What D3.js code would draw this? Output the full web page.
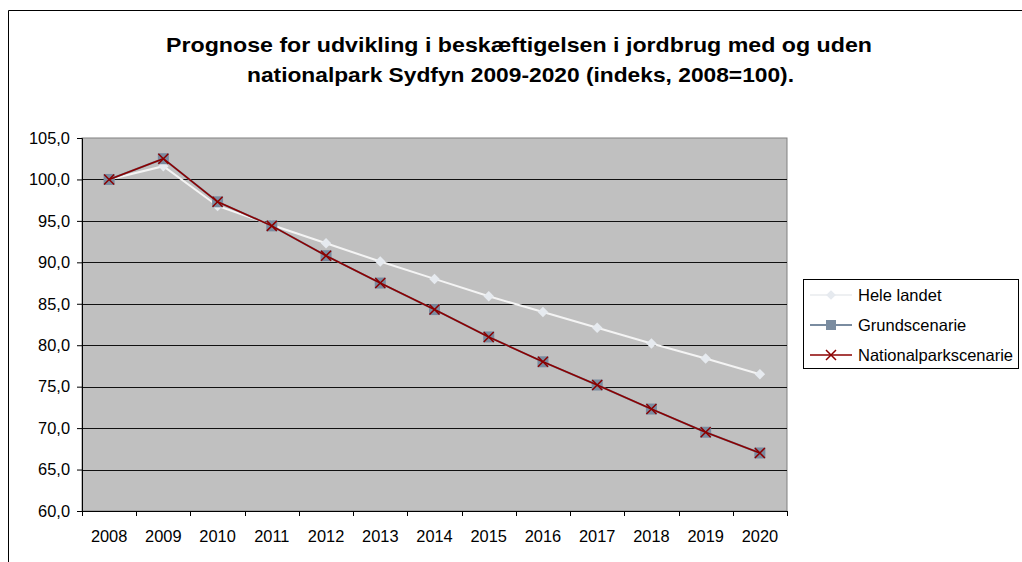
<!doctype html>
<html>
<head>
<meta charset="utf-8">
<style>
body { margin:0; background:#fff; }
svg { display:block; font-family:"Liberation Sans", Arial, sans-serif; }
</style>
<script src="https://d3js.org/d3.v7.min.js"></script>
</head>
<body>
<script>
// data
var years = ['2008','2009','2010','2011','2012','2013','2014','2015','2016','2017','2018','2019','2020'];
var heleLandet = [100.0, 101.6, 96.8, 94.5, 92.3, 90.1, 88.0, 85.9, 84.0, 82.1, 80.2, 78.4, 76.5];
var grundscenarie = [100.0, 102.5, 97.3, 94.4, 90.8, 87.5, 84.3, 81.0, 78.0, 75.2, 72.3, 69.5, 67.0];
var nationalparkscenarie = [100.0, 102.5, 97.3, 94.4, 90.8, 87.5, 84.3, 81.0, 78.0, 75.2, 72.3, 69.5, 67.0];
var yTicks = [60, 65, 70, 75, 80, 85, 90, 95, 100, 105];
var titleLines = ['Prognose for udvikling i beskæftigelsen i jordbrug med og uden',
                  'nationalpark Sydfyn 2009-2020 (indeks, 2008=100).'];
var seriesNames = ['Hele landet', 'Grundscenarie', 'Nationalparkscenarie'];

var width = 1022, height = 562;
var plot = {left: 82, top: 138, right: 787, bottom: 511};

var svg = d3.select('body').append('svg')
    .attr('width', width)
    .attr('height', height);

// outer chart border (cropped on right and bottom)
svg.append('path')
   .attr('d', 'M8.5,' + height + 'V10.5H' + width)
   .attr('fill', 'none')
   .attr('stroke', '#000')
   .attr('stroke-width', 1);

// title (the original is a bit wider than the font, so stretch it)
var titleSpan = [[166, 706], [247, 547]];
svg.append('g').selectAll('text')
   .data(titleLines)
   .enter()
   .append('text')
   .attr('x', function (d, i) { return titleSpan[i][0]; })
   .attr('y', function (d, i) { return 52 + i * 30; })
   .attr('textLength', function (d, i) { return titleSpan[i][1]; })
   .attr('lengthAdjust', 'spacingAndGlyphs')
   .attr('font-size', '20.5px')
   .attr('font-weight', 'bold')
   .text(function (d) { return d; });

var x = d3.scaleBand().domain(years).range([plot.left, plot.right]);
var y = d3.scaleLinear().domain([60, 105]).range([plot.bottom, plot.top]);

// plot area
svg.append('rect')
   .attr('x', plot.left)
   .attr('y', plot.top)
   .attr('width', plot.right - plot.left)
   .attr('height', plot.bottom - plot.top)
   .attr('fill', '#c0c0c0')
   .attr('stroke', '#808080');

// gridlines
svg.append('g').selectAll('line')
   .data(yTicks.slice(1, -1))
   .enter()
   .append('line')
   .attr('x1', plot.left)
   .attr('x2', plot.right)
   .attr('y1', function (d) { return Math.round(y(d)) + 0.5; })
   .attr('y2', function (d) { return Math.round(y(d)) + 0.5; })
   .attr('stroke', '#111');

// y axis
var fmt = function (d) { return d3.format('.1f')(d).replace('.', ','); };
var yAxis = svg.append('g')
   .attr('transform', 'translate(' + plot.left + ',0)')
   .call(d3.axisLeft(y).tickValues(yTicks).tickFormat(fmt).tickSize(5).tickPadding(7));
yAxis.select('.domain').attr('stroke', '#000');
yAxis.selectAll('text').attr('font-size', '16.4px').attr('fill', '#000')
   .attr('font-family', '"Liberation Sans", Arial, sans-serif');

// x axis
var xAxis = svg.append('g')
   .attr('transform', 'translate(0,' + plot.bottom + ')')
   .call(d3.axisBottom(x).tickSize(0).tickPadding(19));
xAxis.select('.domain').remove();
xAxis.selectAll('text').attr('font-size', '16.4px').attr('fill', '#000')
   .attr('font-family', '"Liberation Sans", Arial, sans-serif');
xAxis.append('line')
   .attr('x1', plot.left).attr('x2', plot.right)
   .attr('y1', 0.5).attr('y2', 0.5)
   .attr('stroke', '#000');
xAxis.selectAll('.bound')
   .data(years.concat(['end']))
   .enter()
   .append('line')
   .attr('class', 'bound')
   .attr('x1', function (d) { return Math.round(d === 'end' ? plot.right : x(d)) + 0.5; })
   .attr('x2', function (d) { return Math.round(d === 'end' ? plot.right : x(d)) + 0.5; })
   .attr('y1', 0).attr('y2', 5)
   .attr('stroke', '#000');

var cx = function (d, i) { return x(years[i]) + x.bandwidth() / 2; };
var line = d3.line().x(cx).y(function (d) { return y(d); });

// Hele landet
svg.append('path')
   .datum(heleLandet)
   .attr('d', line)
   .attr('fill', 'none')
   .attr('stroke', '#f4f4f4')
   .attr('stroke-width', 2);
svg.append('g').selectAll('path')
   .data(heleLandet)
   .enter()
   .append('path')
   .attr('d', d3.symbol().type(d3.symbolDiamond2).size(70))
   .attr('transform', function (d, i) { return 'translate(' + cx(d, i) + ',' + y(d) + ')'; })
   .attr('fill', '#e6eaef');

// Grundscenarie
svg.append('path')
   .datum(grundscenarie)
   .attr('d', line)
   .attr('fill', 'none')
   .attr('stroke', '#7a8ca0')
   .attr('stroke-width', 2);
svg.append('g').selectAll('rect')
   .data(grundscenarie)
   .enter()
   .append('rect')
   .attr('x', function (d, i) { return cx(d, i) - 5.5; })
   .attr('y', function (d) { return y(d) - 5.5; })
   .attr('width', 11)
   .attr('height', 11)
   .attr('fill', '#7a8ca0');

// Nationalparkscenarie
svg.append('path')
   .datum(nationalparkscenarie)
   .attr('d', line)
   .attr('fill', 'none')
   .attr('stroke', '#8b0000')
   .attr('stroke-width', 1.6);
svg.append('g').selectAll('path')
   .data(nationalparkscenarie)
   .enter()
   .append('path')
   .attr('d', 'M-5,-5L5,5M-5,5L5,-5')
   .attr('transform', function (d, i) { return 'translate(' + cx(d, i) + ',' + y(d) + ')'; })
   .attr('stroke', '#8b0000')
   .attr('stroke-width', 1.5);

// legend
var legend = svg.append('g').attr('transform', 'translate(803,279)');
legend.append('rect')
   .attr('x', 0.5).attr('y', 0.5)
   .attr('width', 215).attr('height', 89)
   .attr('fill', '#fff')
   .attr('stroke', '#000');
var items = legend.selectAll('.item')
   .data(seriesNames)
   .enter()
   .append('g')
   .attr('class', 'item')
   .attr('transform', function (d, i) { return 'translate(0,' + (16 + i * 30) + ')'; });
items.append('line')
   .attr('x1', 7).attr('x2', 49)
   .attr('stroke', function (d, i) { return ['#eef0f2', '#7a8ca0', '#8b0000'][i]; })
   .attr('stroke-width', function (d, i) { return i === 2 ? 1.5 : 2; });
items.filter(function (d, i) { return i === 0; })
   .append('path')
   .attr('d', d3.symbol().type(d3.symbolDiamond2).size(60))
   .attr('transform', 'translate(28,0)')
   .attr('fill', '#e6eaef');
items.filter(function (d, i) { return i === 1; })
   .append('rect')
   .attr('x', 23).attr('y', -5).attr('width', 10).attr('height', 10)
   .attr('fill', '#7a8ca0');
items.filter(function (d, i) { return i === 2; })
   .append('path')
   .attr('d', 'M23,-5L33,5M23,5L33,-5')
   .attr('stroke', '#8b0000')
   .attr('stroke-width', 1.5);
items.append('text')
   .attr('x', 55)
   .attr('dy', '0.35em')
   .attr('font-size', '16.5px')
   .text(function (d) { return d; });
</script>
</body>
</html>
